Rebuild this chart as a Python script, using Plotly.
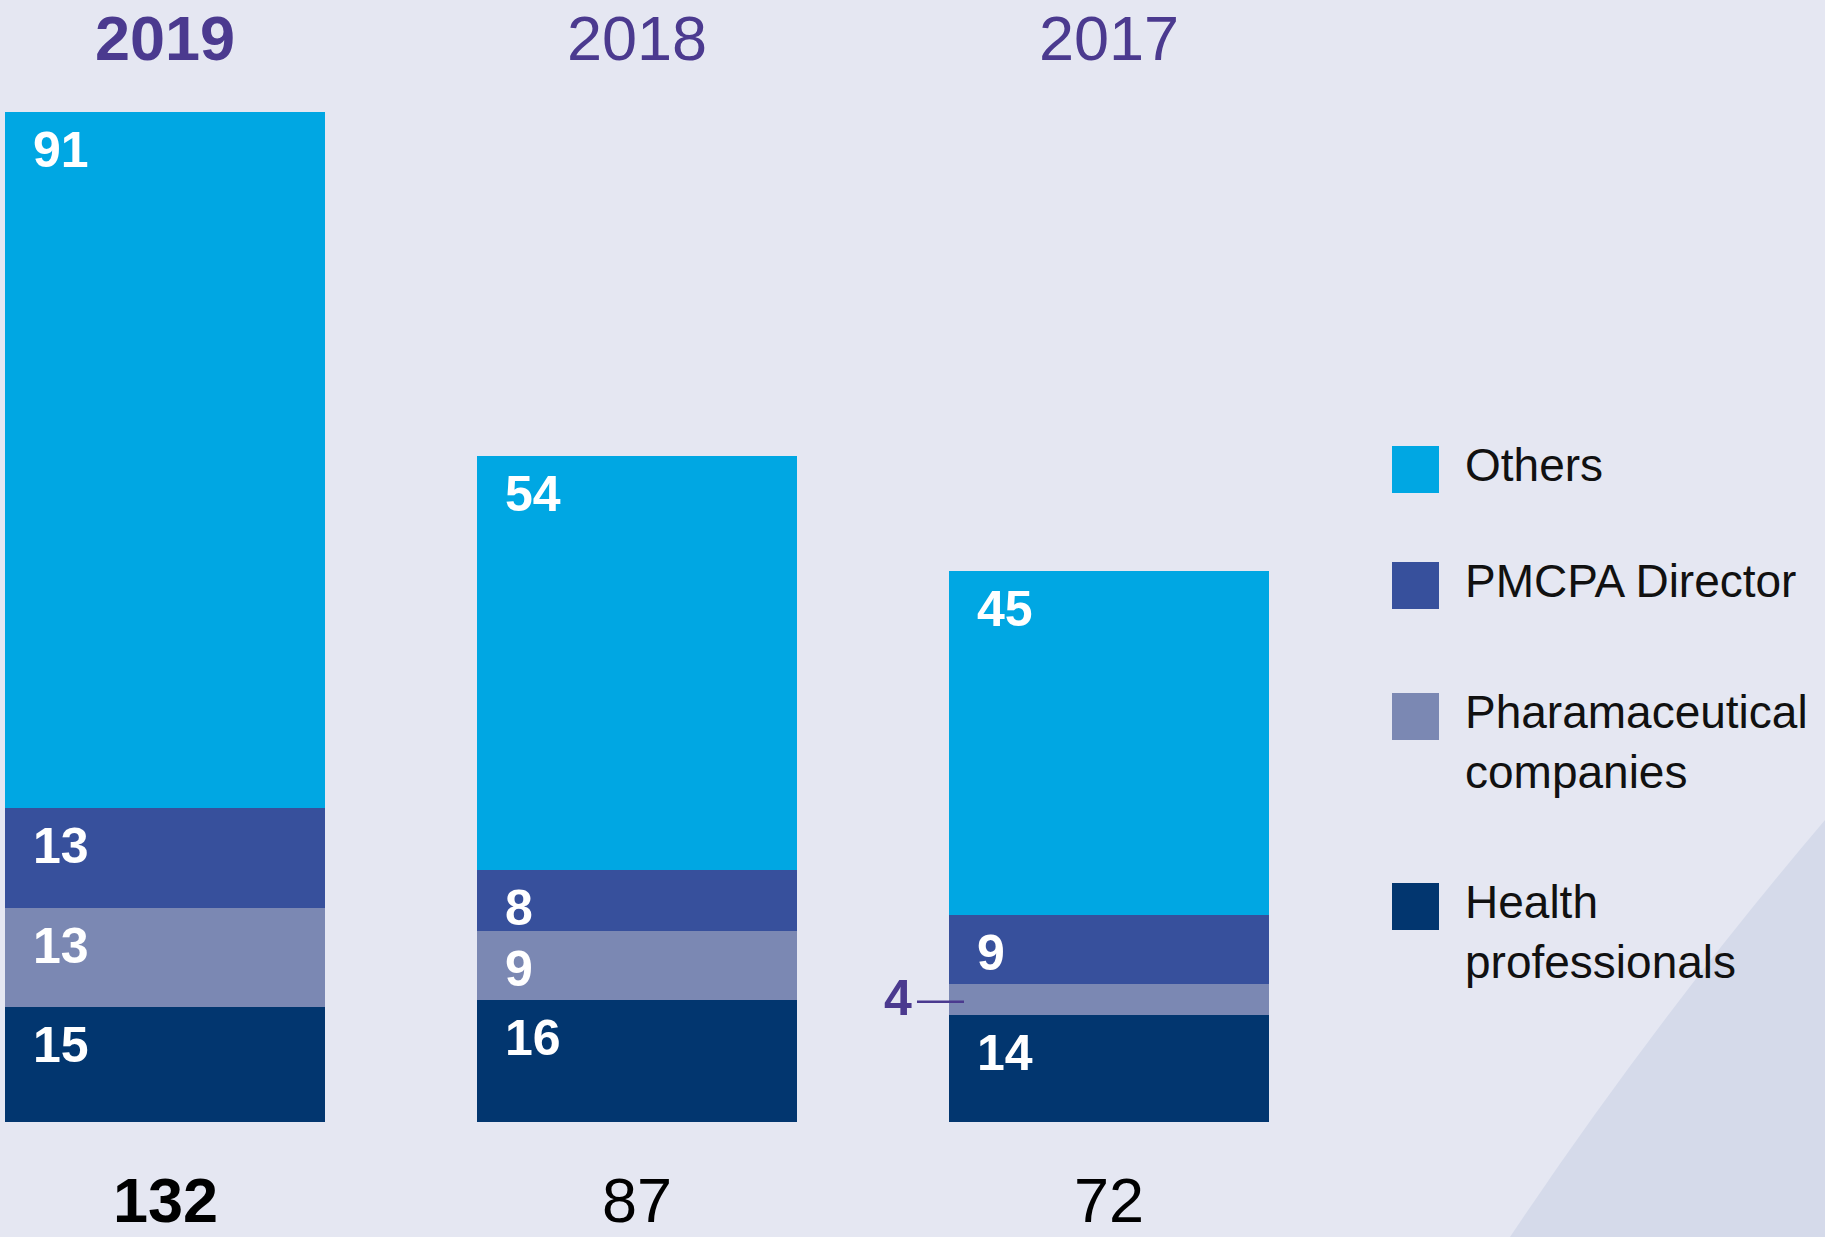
import plotly.graph_objects as go

# ---------------- data ----------------
years = ["2019", "2018", "2017"]
totals = [132, 87, 72]
health = [15, 16, 14]
pharma = [13, 9, 4]
pmcpa = [13, 8, 9]
others = [91, 54, 45]
series_names = ["Health professionals", "Pharamaceutical companies", "PMCPA Director", "Others"]
legend_labels = ["Others", "PMCPA Director", "Pharamaceutical<br>companies", "Health<br>professionals"]

# ---------------- style ----------------
BG = "#E5E7F2"
DECOR = "#D5DAEA"
PURPLE = "#4B3A8F"
COLORS = {"Health professionals": "#02366F",
          "Pharamaceutical companies": "#7B88B3",
          "PMCPA Director": "#37509C",
          "Others": "#00A7E3"}
NUM_FONT = "Liberation Sans, Arial, sans-serif"
LEG_FONT = "Liberation Sans, Arial, sans-serif"

W, H = 1825, 1237
CAT_PX = 472.0        # pixels between bar centres
X0_PX = 165.0         # pixel of first bar centre
Y0_PX = 1122.0        # pixel of the zero line
UNIT_PX = 1010.0 / 132  # pixels per unit
BARGAP = 0.322
HW = (1 - BARGAP) / 2

xs = list(range(len(years)))
series_vals = [health, pharma, pmcpa, others]

fig = go.Figure()
for name, vals in zip(series_names, series_vals):
    fig.add_trace(go.Bar(x=xs, y=vals, name=name, marker=dict(color=COLORS[name], line=dict(width=0)),
                         showlegend=False, hoverinfo="x+y+name"))

annotations = []
shapes = []

# segment labels
for i in xs:
    base = 0
    for name, vals in zip(series_names, series_vals):
        v = vals[i]
        top = base + v
        if v >= 6:
            annotations.append(dict(x=i - HW, y=top, xref="x", yref="y", text=f"<b>{v}</b>",
                                    showarrow=False, xanchor="left", yanchor="top", xshift=26, yshift=-8,
                                    font=dict(family=NUM_FONT, size=50, color="white")))
        else:
            mid = base + v / 2
            annotations.append(dict(x=i - HW, y=mid, xref="x", yref="y", text=f"<b>{v}</b>",
                                    showarrow=False, xanchor="right", yanchor="middle", xshift=-35, yshift=2,
                                    font=dict(family=NUM_FONT, size=50, color=PURPLE)))
            shapes.append(dict(type="line", xref="x", yref="y",
                               x0=i - HW - 32 / CAT_PX, x1=i - HW + 15 / CAT_PX,
                               y0=mid - 0.3, y1=mid - 0.3, line=dict(color=PURPLE, width=2.5), layer="above"))
        base = top

# year labels and totals
for i, (yr, tot) in enumerate(zip(years, totals)):
    bold = i == 0
    annotations.append(dict(x=i, y=1 - 38.5 / H, xref="x", yref="paper",
                            text=f"<b>{yr}</b>" if bold else yr, showarrow=False,
                            xanchor="center", yanchor="middle",
                            font=dict(family=NUM_FONT, size=63, color=PURPLE)))
    annotations.append(dict(x=i, y=0, xref="x", yref="paper",
                            text=f"<b>{tot}</b>" if bold else str(tot), showarrow=False,
                            xanchor="center", yanchor="bottom",
                            font=dict(family=NUM_FONT, size=63, color="#000000")))


def px(xp):
    return xp / W


def py(yp):
    return 1 - yp / H


# decorative curved background shape (bottom right)
shapes.append(dict(type="path", xref="paper", yref="paper", layer="below",
                   path=f"M {px(1825)} {py(820)} Q {px(1655)} {py(1020)} {px(1510)} {py(1237)} L {px(1825)} {py(1237)} Z",
                   fillcolor=DECOR, line=dict(width=0)))

# custom legend
leg_tops = [446, 562, 693, 883]
leg_names = ["Others", "PMCPA Director", "Pharamaceutical companies", "Health professionals"]
for top, lab, nm in zip(leg_tops, legend_labels, leg_names):
    shapes.append(dict(type="rect", xref="paper", yref="paper",
                       x0=px(1392), x1=px(1439), y0=py(top), y1=py(top + 47),
                       fillcolor=COLORS[nm], line=dict(width=0), layer="above"))
    annotations.append(dict(x=px(1463), y=py(top + 1), xref="paper", yref="paper", text=lab,
                            showarrow=False, xanchor="left", yanchor="top", align="left", yshift=10,
                            font=dict(family=LEG_FONT, size=46, color="#111111")))

fig.update_layout(
    width=W, height=H, autosize=False,
    margin=dict(l=0, r=0, t=0, b=0, pad=0),
    paper_bgcolor=BG, plot_bgcolor="rgba(0,0,0,0)",
    barmode="stack", bargap=BARGAP,
    xaxis=dict(range=[-X0_PX / CAT_PX, (W - X0_PX) / CAT_PX], visible=False, fixedrange=True),
    yaxis=dict(range=[-(H - Y0_PX) / UNIT_PX, Y0_PX / UNIT_PX], visible=False, fixedrange=True),
    annotations=annotations, shapes=shapes, showlegend=False,
)

fig.write_html("out.html")
